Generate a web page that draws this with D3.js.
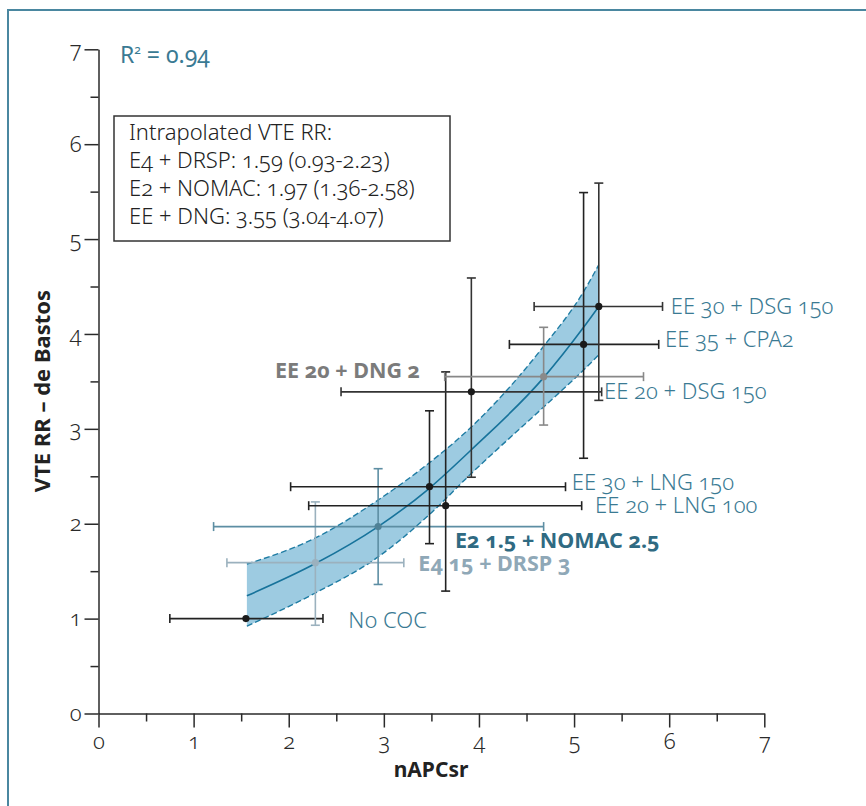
<!DOCTYPE html>
<html>
<head>
<meta charset="utf-8">
<script src="https://cdn.jsdelivr.net/npm/d3@7/dist/d3.min.js"></script>
<style>
  body { margin: 0; background: #fff; }
  svg text { font-family: "Noto Sans", "Open Sans", sans-serif; font-variant-numeric: oldstyle-nums; }
</style>
</head>
<body>
<svg id="chart" width="866" height="806"></svg>
<script>
// study points (nAPCsr vs VTE RR)
var names = ['No COC', 'E4 15 + DRSP 3', 'E2 1.5 + NOMAC 2.5', 'EE 30 + LNG 150', 'EE 20 + LNG 100',
             'EE 20 + DSG 150', 'EE 20 + DNG 2', 'EE 35 + CPA2', 'EE 30 + DSG 150'];
var xVal = [1.55, 2.28, 2.94, 3.48, 3.65, 3.92, 4.68, 5.10, 5.26];
var yVal = [1.00, 1.59, 1.97, 2.39, 2.19, 3.39, 3.55, 3.89, 4.29];
var xLo  = [0.75, 1.35, 1.21, 2.02, 2.21, 2.55, 3.64, 4.32, 4.58];
var xHi  = [2.36, 3.21, 4.68, 4.91, 5.08, 5.29, 5.73, 5.89, 5.93];
var yLo  = [null, 0.93, 1.36, 1.79, 1.29, 2.49, 3.04, 2.69, 3.30];
var yHi  = [null, 2.23, 2.58, 3.19, 3.60, 4.59, 4.07, 5.49, 5.59];

// fitted curve and confidence band
var curveX = [1.56, 2.28, 2.94, 3.45, 3.92, 4.68, 5.10, 5.26];
var curveY = [1.24, 1.58, 1.97, 2.35, 2.78, 3.54, 4.07, 4.29];
var bandLo = [0.92, 1.27, 1.65, 2.07, 2.53, 3.23, 3.62, 3.78];
var bandHi = [1.575, 1.85, 2.25, 2.62, 3.02, 3.87, 4.445, 4.73];

var xTicks = [0, 1, 2, 3, 4, 5, 6, 7];
var yTicks = [0, 1, 2, 3, 4, 5, 6, 7];
var boxLines = ['Intrapolated VTE RR:', 'E4 + DRSP: 1.59 (0.93-2.23)',
                'E2 + NOMAC: 1.97 (1.36-2.58)', 'EE + DNG: 3.55 (3.04-4.07)'];

// styling per point
var barColor = ['#222', '#9bb1be', '#5d8ea3', '#222', '#222', '#333', '#888', '#222', '#333'];
var dotColor = ['#1a1a1a', '#9bb1be', '#4f8196', '#1a1a1a', '#1a1a1a', '#1a1a1a', '#8a8a8a', '#1a1a1a', '#1a1a1a'];
var labelColor = ['#3a7a93', '#8fa8b7', '#2f6a82', '#3a7a93', '#3a7a93', '#3a7a93', '#7b7b7b', '#3a7a93', '#3a7a93'];
var labelBold = [false, true, true, false, false, false, true, false, false];
// label anchor (data units, left edge / baseline)
var labelX = [2.627, 3.363, 3.749, 4.976, 5.221, 5.315, 1.856, 5.957, 6.017];
var labelY = [0.90, 1.50, 1.744, 2.355, 2.113, 3.314, 3.535, 3.862, 4.21];

var svg = d3.select('#chart');
var x = d3.scaleLinear().domain([0, 7]).range([98.5, 764.3]);
var y = d3.scaleLinear().domain([0, 7]).range([713.5, 49.3]);

// frame
svg.append('line').attr('x1', 8).attr('x2', 866).attr('y1', 10).attr('y2', 10)
  .attr('stroke', '#4a87a0').attr('stroke-width', 2);
svg.append('line').attr('x1', 8).attr('x2', 8).attr('y1', 9).attr('y2', 806)
  .attr('stroke', '#4a87a0').attr('stroke-width', 2);

// band + curve
var idx = d3.range(curveX.length);
var area = d3.area().x(i => x(curveX[i])).y0(i => y(bandLo[i])).y1(i => y(bandHi[i])).curve(d3.curveMonotoneX);
svg.append('path').attr('d', area(idx)).attr('fill', '#9dcbe1');
var edge = function(arr) { return d3.line().x(i => x(curveX[i])).y(i => y(arr[i])).curve(d3.curveMonotoneX)(idx); };
svg.append('path').attr('d', edge(bandLo)).attr('fill', 'none').attr('stroke', '#1f7ca3').attr('stroke-width', 1.4).attr('stroke-dasharray', '6,3');
svg.append('path').attr('d', edge(bandHi)).attr('fill', 'none').attr('stroke', '#1f7ca3').attr('stroke-width', 1.4).attr('stroke-dasharray', '6,3');
svg.append('path').attr('d', edge(curveY)).attr('fill', 'none').attr('stroke', '#17739b').attr('stroke-width', 1.6);

// axes
var yAxis = svg.append('g').attr('transform', 'translate(' + x(0) + ',0)')
  .call(d3.axisLeft(y).tickValues(yTicks).tickSize(14).tickSizeOuter(0).tickPadding(3).tickFormat(d3.format('d')));
var xAxis = svg.append('g').attr('transform', 'translate(0,' + y(0) + ')')
  .call(d3.axisBottom(x).tickValues(xTicks).tickSize(14).tickSizeOuter(0).tickPadding(6).tickFormat(d3.format('d')));
svg.append('g').attr('transform', 'translate(' + x(0) + ',0)')
  .call(d3.axisLeft(y).tickValues(d3.range(0.5, 7, 1)).tickSize(8).tickSizeOuter(0).tickFormat(''))
  .select('.domain').remove();
svg.append('g').attr('transform', 'translate(0,' + y(0) + ')')
  .call(d3.axisBottom(x).tickValues(d3.range(0.5, 7, 1)).tickSize(8).tickSizeOuter(0).tickFormat(''))
  .select('.domain').remove();
svg.selectAll('.tick line, .domain').attr('stroke', '#2a2a2a').attr('stroke-width', 1.5);
[yAxis, xAxis].forEach(function(a) {
  a.selectAll('text').attr('font-size', 22).attr('fill', '#2a2a2a')
    .style('font-family', '"Noto Sans", sans-serif').style('font-weight', 300);
});

// axis titles
svg.append('text').text('nAPCsr').attr('x', 431).attr('y', 777)
  .attr('text-anchor', 'middle').attr('font-size', 21).attr('font-weight', 'bold').attr('fill', '#222');
svg.append('text').text('VTE RR – de Bastos')
  .attr('transform', 'translate(50,391) rotate(-90)')
  .attr('text-anchor', 'middle').attr('font-size', 22).attr('font-weight', 'bold').attr('fill', '#222');

// R squared
var r2 = svg.append('text').attr('x', 120).attr('y', 63).attr('font-size', 23).attr('fill', '#3a7a93');
r2.append('tspan').text('R');
r2.append('tspan').text('2').attr('font-size', 12).attr('dy', -9);
r2.append('tspan').text(' = 0.94').attr('dy', 9);

// info box
svg.append('rect').attr('x', 114).attr('y', 116).attr('width', 336).attr('height', 125)
  .attr('fill', 'white').attr('stroke', '#333').attr('stroke-width', 1.5);
svg.selectAll('.boxline').data(boxLines).enter().append('text')
  .attr('x', 129).attr('y', (d, i) => 140 + i * 28)
  .attr('font-size', 22).attr('fill', '#222').style('font-weight', 300).text(d => d);

// error bars
var cap = 4.5;
names.forEach(function(n, i) {
  var g = svg.append('g').attr('stroke', barColor[i]).attr('stroke-width', 1.6);
  var px = x(xVal[i]), py = y(yVal[i]);
  g.append('line').attr('x1', x(xLo[i])).attr('x2', x(xHi[i])).attr('y1', py).attr('y2', py);
  g.append('line').attr('x1', x(xLo[i])).attr('x2', x(xLo[i])).attr('y1', py - cap).attr('y2', py + cap);
  g.append('line').attr('x1', x(xHi[i])).attr('x2', x(xHi[i])).attr('y1', py - cap).attr('y2', py + cap);
  if (yLo[i] != null) {
    g.append('line').attr('x1', px).attr('x2', px).attr('y1', y(yLo[i])).attr('y2', y(yHi[i]));
    g.append('line').attr('x1', px - cap).attr('x2', px + cap).attr('y1', y(yLo[i])).attr('y2', y(yLo[i]));
    g.append('line').attr('x1', px - cap).attr('x2', px + cap).attr('y1', y(yHi[i])).attr('y2', y(yHi[i]));
  }
});
svg.selectAll('.dot').data(names).enter().append('circle')
  .attr('cx', (d, i) => x(xVal[i])).attr('cy', (d, i) => y(yVal[i])).attr('r', 3.6)
  .attr('fill', (d, i) => dotColor[i]);

// labels
svg.selectAll('.lbl').data(names).enter().append('text')
  .attr('x', (d, i) => x(labelX[i])).attr('y', (d, i) => y(labelY[i]))
  .attr('font-size', (d, i) => labelBold[i] ? 21.5 : 22).attr('fill', (d, i) => labelColor[i])
  .style('font-weight', (d, i) => labelBold[i] ? 'bold' : 300)
  .text(d => d);
</script>
</body>
</html>
